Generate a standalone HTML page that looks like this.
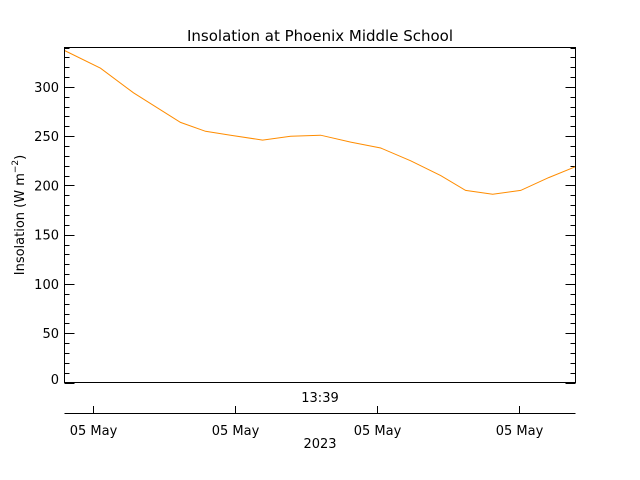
<!DOCTYPE html>
<html><head><meta charset="utf-8">
<style>
html,body{margin:0;padding:0;background:#fff;}
svg{display:block;font-family:"DejaVu Sans","Liberation Sans",sans-serif;}
</style></head>
<body>
<svg id="chart" width="640" height="480" viewBox="0 0 640 480" xmlns="http://www.w3.org/2000/svg">
<rect width="640" height="480" fill="#fff"/>
<text x="320" y="41" text-anchor="middle" font-size="15">Insolation at Phoenix Middle School</text>
<text transform="translate(24,215) rotate(-90)" text-anchor="middle" font-size="13">Insolation (W m<tspan dy="-6" font-size="9">−2</tspan><tspan dy="6">)</tspan></text>
<g id="yaxis"></g>
<g id="xaxis"></g>
<g id="series"></g>
<rect x="64.5" y="47.5" width="511" height="335" fill="none" stroke="#000" stroke-width="1"/>
<text x="320" y="402" text-anchor="middle" font-size="13">13:39</text>
<text x="320" y="448" text-anchor="middle" font-size="13">2023</text>
</svg>
<script>
// data (time in hour units relative to first tick)
var times = [-0.197, 0.056, 0.288, 0.618, 0.794, 0.970, 1.195, 1.392, 1.603, 1.814, 2.025, 2.236, 2.447, 2.622, 2.812, 3.009, 3.206, 3.394];
var values = [337, 319, 294, 264, 255, 251, 246, 250, 251, 244, 238, 225, 210, 195, 191, 195, 208, 219];
var xTicks = [0, 1, 2, 3];
var xTickLabels = ["05 May", "05 May", "05 May", "05 May"];
var yTicks = [0, 50, 100, 150, 200, 250, 300];

var NS = "http://www.w3.org/2000/svg";
var L = 64.5, R = 575.5, T = 47.5, B = 382.5;
var xMin = -0.197, xMax = 3.394, yMin = 0, yMax = 340;
function xs(t){ return L + (t - xMin) / (xMax - xMin) * (R - L); }
function ys(v){ return B - (v - yMin) / (yMax - yMin) * (B - T); }
function mk(tag, attrs, parent){ var e = document.createElementNS(NS, tag); for (var k in attrs) e.setAttribute(k, attrs[k]); parent.appendChild(e); return e; }

var ya = document.getElementById('yaxis');
for (var v = 0; v <= yMax; v += 10) {
  var major = v % 50 === 0;
  var len = major ? 10 : 5;
  var y = Math.round(ys(v)) + 0.5;
  var tl = mk('line', {x1: L, x2: L + len, y1: y, y2: y, stroke: '#000'}, ya);
  
  
  var tr = mk('line', {x1: R - len, x2: R, y1: y, y2: y, stroke: '#000'}, ya);
  
  
}
yTicks.forEach(function(v){
  var t = mk('text', {x: 59, y: Math.min(ys(v), 379) + 5, 'text-anchor': 'end', 'font-size': 13}, ya);
  t.textContent = String(v);
  
  
});

var xa = document.getElementById('xaxis');
var al = mk('line', {x1: L, x2: R, y1: 413.5, y2: 413.5, stroke: '#000'}, xa);


xTicks.forEach(function(t, i){
  var x = Math.round(xs(t)) + 0.5;
  var tk = mk('line', {x1: x, x2: x, y1: 413.5, y2: 406, stroke: '#000'}, xa);
  
  
  var lb = mk('text', {x: x, y: 435, 'text-anchor': 'middle', 'font-size': 13}, xa);
  lb.textContent = xTickLabels[i];
  
  
});

var sg = document.getElementById('series');
var d = times.map(function(t, i){ return (i ? 'L' : 'M') + xs(t).toFixed(1) + ' ' + ys(values[i]).toFixed(1); }).join(' ');
var p = mk('path', {d: d, fill: 'none', stroke: '#ff8c00', 'stroke-width': 1}, sg);


</script>
</body></html>
